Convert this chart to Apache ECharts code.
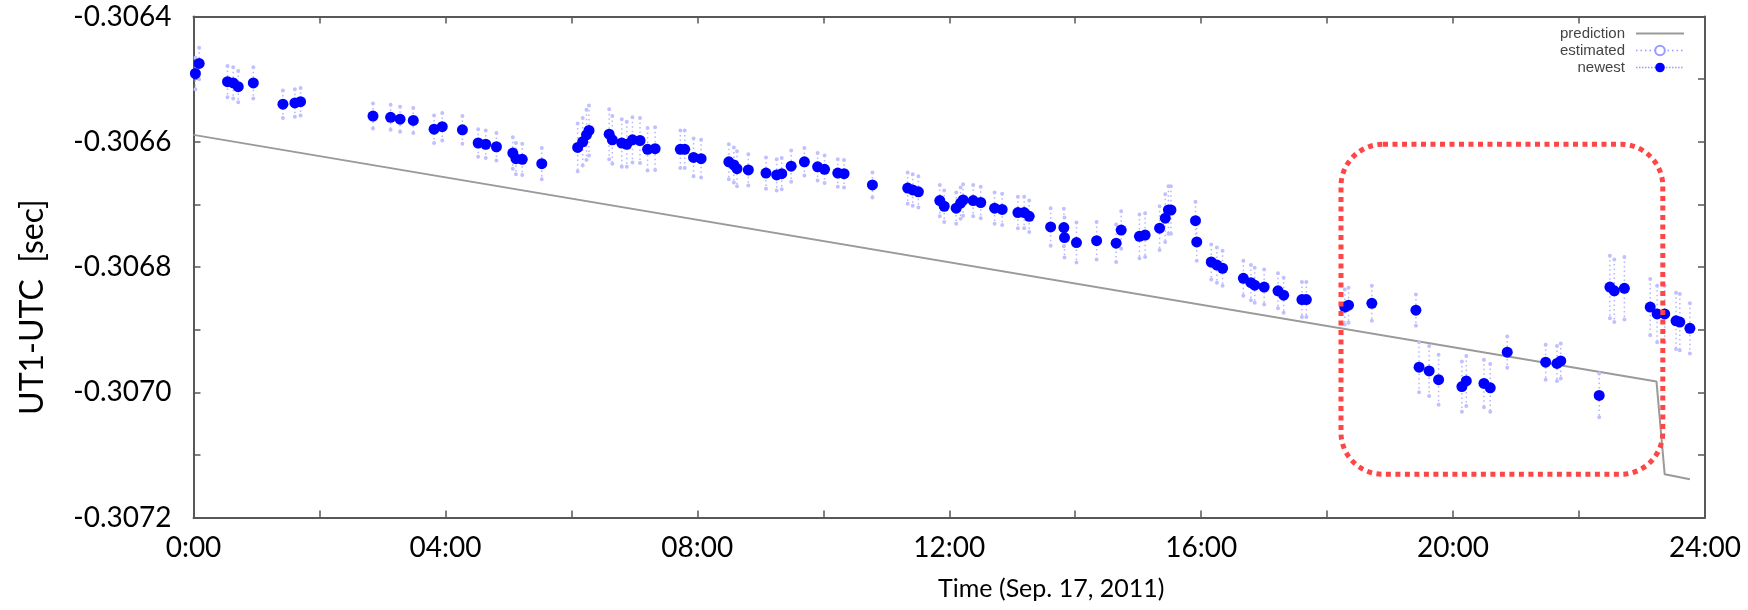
<!DOCTYPE html>
<html>
<head>
<meta charset="utf-8">
<script src="https://cdn.jsdelivr.net/npm/echarts@6/dist/echarts.min.js"></script>
<style>
  html, body { margin: 0; padding: 0; background: #fff; }
  #main { width: 1748px; height: 610px; }
</style>
</head>
<body>
<div id="main"></div>
<script>
// time in hours after 0:00, Sep. 17, 2011
var newestTime = [
  0.03, 0.09, 0.54, 0.63, 0.71, 0.95, 1.42, 1.61, 1.70,
  2.85, 3.13, 3.28, 3.49, 3.82, 3.95, 4.27, 4.52, 4.64, 4.81, 5.07, 5.12, 5.22, 5.53,
  6.10, 6.18, 6.24, 6.28, 6.60, 6.65, 6.80, 6.88, 6.97, 7.09, 7.21, 7.33,
  7.73, 7.80, 7.94, 8.06, 8.50, 8.58, 8.63, 8.81, 9.09, 9.26, 9.34, 9.49, 9.70, 9.91, 10.02, 10.23, 10.33,
  10.78, 11.34, 11.42, 11.51, 11.85, 11.92, 12.11, 12.18, 12.22, 12.38, 12.50, 12.72, 12.84, 13.09, 13.19, 13.27,
  13.61, 13.82, 13.83, 14.02, 14.34, 14.65, 14.73, 15.02, 15.11, 15.34, 15.43, 15.48, 15.52, 15.91, 15.93,
  16.16, 16.25, 16.34, 16.67, 16.79, 16.85, 17.00, 17.22, 17.31, 17.60, 17.67,
  18.28, 18.34, 18.71, 19.41,
  19.46, 19.62, 19.77, 20.14, 20.21, 20.49, 20.59,
  20.86, 21.47, 21.65, 21.71,
  22.32,
  22.49, 22.56, 22.72,
  23.13, 23.24, 23.36, 23.54, 23.60, 23.76
];
var newestValue = [
  -0.306491, -0.306475, -0.306504, -0.306506, -0.306512, -0.306506, -0.306540, -0.306538, -0.306536,
  -0.306559, -0.306561, -0.306564, -0.306566, -0.306580, -0.306576, -0.306581, -0.306602, -0.306604, -0.306608, -0.306618, -0.306627, -0.306628, -0.306635,
  -0.306609, -0.306600, -0.306589, -0.306582, -0.306588, -0.306597, -0.306602, -0.306604, -0.306597, -0.306598, -0.306612, -0.306611,
  -0.306612, -0.306612, -0.306625, -0.306627, -0.306632, -0.306637, -0.306643, -0.306645, -0.306650, -0.306653, -0.306651, -0.306639, -0.306632, -0.306640, -0.306644, -0.306650, -0.306651,
  -0.306669, -0.306674, -0.306677, -0.306680, -0.306694, -0.306703, -0.306706, -0.306698, -0.306693, -0.306694, -0.306697, -0.306706, -0.306708, -0.306713, -0.306713, -0.306719,
  -0.306736, -0.306737, -0.306753, -0.306761, -0.306758, -0.306762, -0.306741, -0.306751, -0.306749, -0.306738, -0.306722, -0.306709, -0.306709, -0.306726, -0.306760,
  -0.306792, -0.306797, -0.306802, -0.306818, -0.306825, -0.306829, -0.306832, -0.306838, -0.306845, -0.306852, -0.306852,
  -0.306864, -0.306861, -0.306858, -0.306869,
  -0.306960, -0.306966, -0.306980, -0.306991, -0.306982, -0.306986, -0.306993,
  -0.306936, -0.306952, -0.306954, -0.306950,
  -0.307005,
  -0.306832, -0.306838, -0.306834,
  -0.306864, -0.306875, -0.306875, -0.306886, -0.306888, -0.306898
];
// half height of the column of estimated values around each newest point [sec]
var estSpread = [
  0.000025, 0.000025, 0.000025, 0.000025, 0.000025, 0.000025, 0.000022, 0.000022, 0.000022,
  0.000020, 0.000020, 0.000020, 0.000020, 0.000022, 0.000022, 0.000022, 0.000022, 0.000022, 0.000022, 0.000025, 0.000025, 0.000025, 0.000025,
  0.000038, 0.000038, 0.000040, 0.000040, 0.000040, 0.000038, 0.000038, 0.000036, 0.000036, 0.000036, 0.000034, 0.000034,
  0.000030, 0.000030, 0.000030, 0.000030, 0.000028, 0.000028, 0.000028, 0.000025, 0.000025, 0.000025, 0.000025, 0.000025, 0.000022, 0.000022, 0.000022, 0.000022, 0.000022,
  0.000020, 0.000025, 0.000025, 0.000025, 0.000025, 0.000025, 0.000025, 0.000025, 0.000025, 0.000025, 0.000025, 0.000025, 0.000025, 0.000025, 0.000025, 0.000025,
  0.000030, 0.000030, 0.000032, 0.000032, 0.000030, 0.000030, 0.000030, 0.000035, 0.000035, 0.000035, 0.000038, 0.000038, 0.000038, 0.000030, 0.000030,
  0.000028, 0.000028, 0.000028, 0.000028, 0.000028, 0.000028, 0.000028, 0.000028, 0.000028, 0.000028, 0.000028,
  0.000028, 0.000028, 0.000028, 0.000025,
  0.000040, 0.000040, 0.000040, 0.000040, 0.000040, 0.000038, 0.000038,
  0.000025, 0.000028, 0.000028, 0.000028,
  0.000035,
  0.000050, 0.000050, 0.000050,
  0.000045, 0.000045, 0.000045, 0.000045, 0.000045, 0.000040
];
var predTime = [0, 23.23, 23.36, 23.76];
var predValue = [-0.306589, -0.306983, -0.307131, -0.307139];

var xTickValues = [0, 4, 8, 12, 16, 20, 24];
var xTickLabels = ['0:00', '04:00', '08:00', '12:00', '16:00', '20:00', '24:00'];
var yTickValues = [-0.3064, -0.3066, -0.3068, -0.3070, -0.3072];
var yTickLabels = ['-0.3064', '-0.3066', '-0.3068', '-0.3070', '-0.3072'];

// highlighted region (red dotted frame), in data units
var boxTime = [18.22, 23.33];
var boxValue = [-0.306604, -0.307131];

function pickLabel(v, values, labels) {
  for (var i = 0; i < values.length; i++) {
    if (Math.abs(v - values[i]) < 1e-9) return labels[i];
  }
  return '';
}

var myChart = echarts.init(document.getElementById('main'));

var predData = predTime.map(function (t, i) { return [t, predValue[i]]; });
var newestData = newestTime.map(function (t, i) { return [t, newestValue[i]]; });
var estData = [];
for (var i = 0; i < newestTime.length; i++) {
  estData.push([newestTime[i], newestValue[i] + estSpread[i]]);
  estData.push([newestTime[i], newestValue[i] - estSpread[i]]);
  estData.push([newestTime[i], '-']);
}

var axisColor = '#585858';
var labelFont = 'Lato';

var option = {
  animation: false,
  grid: { left: 193.5, right: 43, top: 16.5, bottom: 92.5, outerBoundsMode: 'none' },
  legend: {
    orient: 'vertical',
    right: 58,
    top: 21,
    align: 'right',
    itemWidth: 48,
    itemHeight: 12,
    itemGap: 2,
    selectedMode: false,
    textStyle: { fontFamily: 'Liberation Sans', fontSize: 15, color: '#444', padding: [0, 6, 0, 0] },
    data: [
      { name: 'prediction', itemStyle: { opacity: 0 } },
      { name: 'estimated', lineStyle: { width: 1.5, color: '#9a9aff' }, itemStyle: { color: '#9a9aff' } },
      { name: 'newest', lineStyle: { width: 1.5, type: 'dotted', color: '#9a9aff' } }
    ]
  },
  xAxis: [{
    type: 'value',
    min: 0, max: 24, interval: 2,
    name: 'Time (Sep. 17, 2011)',
    nameLocation: 'middle',
    nameGap: 59,
    nameTextStyle: { fontFamily: labelFont, fontSize: 25, color: '#000', padding: [0, 0, 0, 204] },
    axisLine: { onZero: false, lineStyle: { color: axisColor, width: 2 } },
    axisTick: { inside: true, length: 7, lineStyle: { color: axisColor, width: 1.5 } },
    axisLabel: {
      margin: 16, fontFamily: labelFont, fontSize: 28, color: '#000',
      showMinLabel: true, showMaxLabel: true,
      formatter: function (v) { return pickLabel(v, xTickValues, xTickLabels); }
    },
    splitLine: { show: false }
  }, {
    type: 'value', position: 'top',
    min: 0, max: 24, interval: 2,
    axisLine: { onZero: false, lineStyle: { color: axisColor, width: 2 } },
    axisTick: { inside: true, length: 7, lineStyle: { color: axisColor, width: 1.5 } },
    axisLabel: { show: false },
    splitLine: { show: false }
  }],
  yAxis: [{
    type: 'value',
    min: -0.3072, max: -0.3064, interval: 0.0001,
    name: 'UT1-UTC  [sec]',
    nameLocation: 'middle',
    nameGap: 145,
    nameTextStyle: { fontFamily: labelFont, fontSize: 32, color: '#000', padding: [0, 80, 0, 0] },
    axisLine: { onZero: false, lineStyle: { color: axisColor, width: 2 } },
    axisTick: { inside: true, length: 7, lineStyle: { color: axisColor, width: 1.5 } },
    axisLabel: {
      margin: 22, fontFamily: labelFont, fontSize: 28, color: '#000',
      showMinLabel: true, showMaxLabel: true,
      formatter: function (v) { return pickLabel(v, yTickValues, yTickLabels); }
    },
    splitLine: { show: false }
  }, {
    type: 'value', position: 'right',
    min: -0.3072, max: -0.3064, interval: 0.0001,
    axisLine: { onZero: false, lineStyle: { color: axisColor, width: 2 } },
    axisTick: { inside: true, length: 7, lineStyle: { color: axisColor, width: 1.5 } },
    axisLabel: { show: false },
    splitLine: { show: false }
  }],
  series: [{
    name: 'prediction',
    type: 'line',
    data: predData,
    symbol: 'none',
    color: '#9a9a9a',
    lineStyle: { color: '#9a9a9a', width: 2 },
    emphasis: { disabled: true },
    z: 2
  }, {
    name: 'estimated',
    type: 'line',
    data: estData,
    symbol: 'emptyCircle',
    symbolSize: 2,
    showSymbol: true,
    connectNulls: false,
    color: '#b4b4ff',
    itemStyle: { color: '#c0c0ff', borderWidth: 1 },
    lineStyle: { color: '#b4b4ff', width: 1.5, type: [1.5, 3] },
    emphasis: { disabled: true },
    z: 3
  }, {
    name: 'newest',
    type: 'line',
    data: newestData,
    symbol: 'circle',
    symbolSize: 11,
    showSymbol: true,
    color: '#0000ff',
    itemStyle: { color: '#0000ff' },
    lineStyle: { width: 0 },
    emphasis: { disabled: true },
    z: 4
  }]
};

myChart.setOption(option);

var p1 = myChart.convertToPixel({ seriesIndex: 2 }, [boxTime[0], boxValue[0]]);
var p2 = myChart.convertToPixel({ seriesIndex: 2 }, [boxTime[1], boxValue[1]]);
myChart.setOption({
  graphic: [{
    type: 'rect',
    silent: true,
    z: 100,
    shape: { x: p1[0], y: p1[1], width: p2[0] - p1[0], height: p2[1] - p1[1], r: 42 },
    style: { fill: 'none', stroke: '#ff4646', lineWidth: 5, lineDash: [5, 4.5] }
  }]
});
</script>
</body>
</html>
